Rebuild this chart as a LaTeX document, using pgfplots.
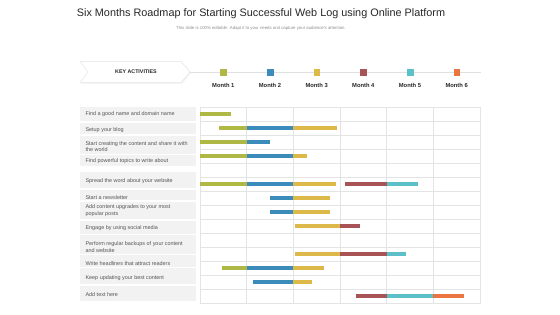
\documentclass[border=0pt]{standalone}
\usepackage{pgfplots}
\pgfplotsset{compat=1.18}
\usepackage{pgfplotstable}
\usepackage{fontspec}
\setmainfont{Liberation Sans}
\definecolor{cgreen}{HTML}{B0B845}
\definecolor{cblue}{HTML}{3C8CBB}
\definecolor{cyellow}{HTML}{DCB948}
\definecolor{cred}{HTML}{A85356}
\definecolor{ccyan}{HTML}{5BC0C8}
\definecolor{corange}{HTML}{EC7440}
\definecolor{boxgray}{HTML}{F2F2F2}
\definecolor{labgray}{HTML}{555555}
\definecolor{gridgray}{HTML}{E4E4E4}

\pgfplotstableread{
row start end
1 0 0.67
2 0.41 1
3 0 1
4 0 1
6 0 1
12 0.47 1
}\tgreen
\pgfplotstableread{
row start end
2 1 2
3 1 1.51
4 1 2
6 1 2
7 1.5 2
8 1.5 2
12 1 2
13 1.13 2
}\tblue
\pgfplotstableread{
row start end
2 2 2.94
4 2 2.29
6 2 2.91
7 2 2.79
8 2 2.79
9 2.04 3
11 2.04 3
12 2 2.65
13 2 2.41
}\tyellow
\pgfplotstableread{
row start end
6 3.11 4.01
9 3 3.43
11 3 4
14 3.35 4
}\tred
\pgfplotstableread{
row start end
6 4.01 4.67
11 4 4.41
14 4 5
}\tcyan
\pgfplotstableread{
row start end
14 5 5.65
}\torange

\pgfplotsset{seg/.style={quiver={u=\thisrow{end}-\thisrow{start}, v=0,
  every arrow/.append style={-, line width=4.6pt, line cap=butt}}, mark=none}}

\begin{document}
\begin{tikzpicture}[x=1pt,y=1pt]
\path[use as bounding box] (0,0) rectangle (560,315);
% title
\node[text=black!85, font=\fontsize{10.85}{12}\selectfont] at (261,{315-13.5}) {Six Months Roadmap for Starting Successful Web Log using Online Platform};
\node[text=black!45, font=\fontsize{4.3}{5}\selectfont] at (261,{315-28}) {This slide is 100\% editable. Adapt it to your needs and capture your audience's attention.};
% header chevron
\fill[black!4] (81,{315-62.5}) -- (182,{315-62.5}) -- (191.5,{315-73}) -- (182,{315-84}) -- (81,{315-84}) -- (89,{315-73}) -- cycle;
\filldraw[fill=white, draw=black!10, line width=0.5pt] (80,{315-61.5}) -- (181,{315-61.5}) -- (190,{315-72}) -- (181,{315-82.5}) -- (80,{315-82.5}) -- (88,{315-72}) -- cycle;
\node[font=\fontsize{5.3}{6}\selectfont\bfseries, text=black!85] at (136,{315-72}) {KEY ACTIVITIES};
\draw[black!12, line width=0.6pt] (190,{315-72.5}) -- (481,{315-72.5});
% label boxes
\foreach \a/\b in {107.3/120.7,122.7/134,136/153.7,155.3/166.3,172.3/188.3,189.7/200.3,201.7/219.3,221/234.3,235/254,255.3/267,268/284.3,286/301}
  \fill[boxgray] (80,{315-\a}) rectangle (196,{315-\b});
\tikzset{lab/.style={anchor=west, text=labgray, align=left, font=\fontsize{5.45}{6.6}\selectfont}}
\node[lab] at (82,{315-114.3}) {Find a good name and domain name};
\node[lab] at (82,{315-130.5}) {Setup your blog};
\node[lab] at (82,{315-146.7}) {Start creating the content and share it with\\the world};
\node[lab] at (82,{315-161.5}) {Find powerful topics to write about};
\node[lab] at (82,{315-180.8}) {Spread the word about your website};
\node[lab] at (82,{315-197.2}) {Start a newsletter};
\node[lab] at (82,{315-210.7}) {Add content upgrades to your most\\popular posts};
\node[lab] at (82,{315-228.2}) {Engage by using social media};
\node[lab] at (82,{315-247}) {Perform regular backups of your content\\and website};
\node[lab] at (82,{315-263.2}) {Write headlines that attract readers};
\node[lab] at (82,{315-278.5}) {Keep updating your best content};
\node[lab] at (82,{315-294.2}) {Add text here};
\begin{axis}[
  at={(200pt,12pt)}, anchor=south west,
  width=280pt, height=196pt, scale only axis,
  xmin=0, xmax=6, ymin=-14.5, ymax=-0.5,
  xtick={0,...,6}, ytick={-14.5,-13.5,...,-0.5},
  xticklabels={}, yticklabels={}, major tick length=0pt,
  grid=major, grid style={gridgray, line width=0.5pt},
  axis line style={gridgray, line width=0.5pt},
  clip=false,
]
\addplot[cgreen, seg] table[x=start, y expr=-\thisrow{row}] {\tgreen};
\addplot[cblue, seg] table[x=start, y expr=-\thisrow{row}] {\tblue};
\addplot[cyellow, seg] table[x=start, y expr=-\thisrow{row}] {\tyellow};
\addplot[cred, seg] table[x=start, y expr=-\thisrow{row}] {\tred};
\addplot[ccyan, seg] table[x=start, y expr=-\thisrow{row}] {\tcyan};
\addplot[corange, seg] table[x=start, y expr=-\thisrow{row}] {\torange};
% header month markers
\addplot[only marks, mark=square*, mark size=2.8pt, cgreen] coordinates {(0.5,2)};
\addplot[only marks, mark=square*, mark size=2.8pt, cblue] coordinates {(1.5,2)};
\addplot[only marks, mark=square*, mark size=2.8pt, cyellow] coordinates {(2.5,2)};
\addplot[only marks, mark=square*, mark size=2.8pt, cred] coordinates {(3.5,2)};
\addplot[only marks, mark=square*, mark size=2.8pt, ccyan] coordinates {(4.5,2)};
\addplot[only marks, mark=square*, mark size=2.8pt, corange] coordinates {(5.5,2)};
\foreach \m in {1,...,6} {
  \edef\tmp{\noexpand\node[font=\noexpand\fontsize{5.8}{6}\noexpand\selectfont\noexpand\bfseries, text=black!85] at (axis cs:{\m-0.5},1.05) {Month \m};}
  \tmp
}
\end{axis}
\end{tikzpicture}
\end{document}
